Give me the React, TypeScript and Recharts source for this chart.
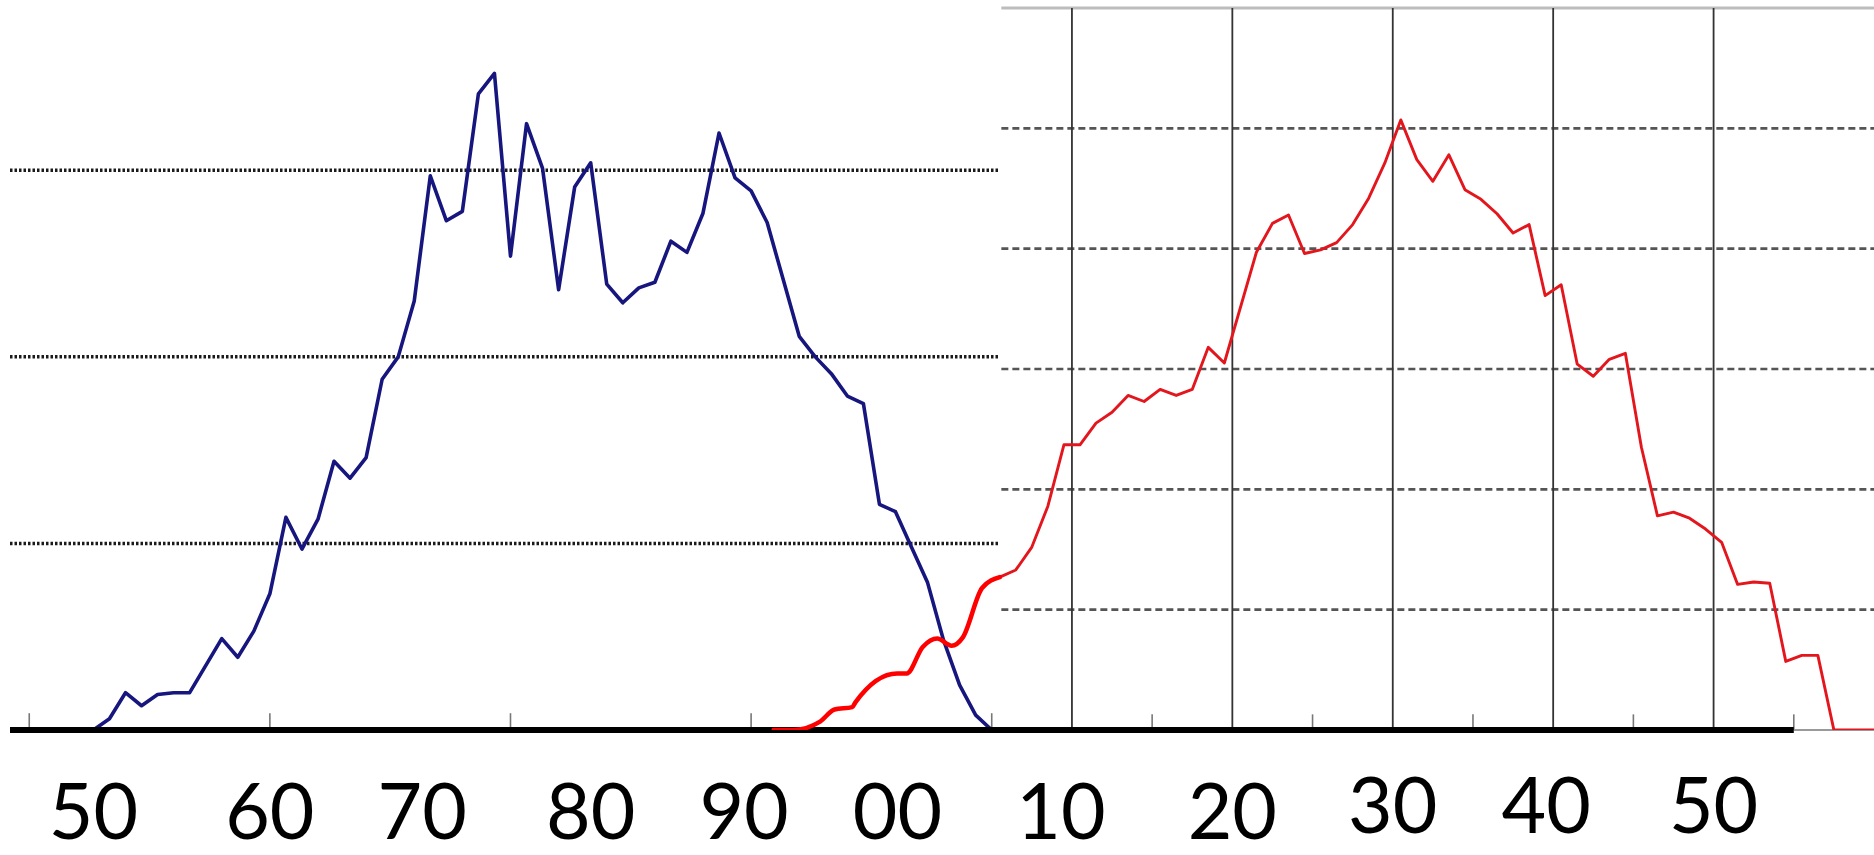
import React from "react";
import { ComposedChart, Line, XAxis, YAxis, ReferenceLine } from "recharts";

// ---- data (x = year, y = value) ----
const xTicks = [1950, 1960, 1970, 1980, 1990, 2000, 2010, 2020, 2030, 2040, 2050];

const blueYears = [
  1944, 1949, 1950, 1951, 1952, 1953, 1954, 1955, 1957, 1958, 1959, 1960, 1961, 1962, 1963,
  1964, 1965, 1966, 1967, 1968, 1969, 1970, 1971, 1972, 1973, 1974, 1975, 1976, 1977, 1978,
  1979, 1980, 1981, 1982, 1983, 1984, 1985, 1986, 1987, 1988, 1989, 1990, 1991, 1993, 1994,
  1995, 1996, 1997, 1998, 1999, 2000, 2001, 2002, 2003, 2004, 2005,
];
const blueValues = [
  0, 0, 6, 20, 13, 19, 20, 20, 49, 39, 53, 73, 114, 97, 113,
  144, 135, 146, 188, 200, 230, 297, 273, 278, 341, 352, 254, 325, 301, 236,
  291, 304, 239, 229, 237, 240, 262, 256, 277, 320, 296, 289, 272, 211, 200,
  191, 179, 175, 121, 117, 98, 79, 48, 24, 8, 0,
];

const redEarlyYears = [1991.4, 1992.6, 1994.3, 1995.2, 1996.3, 1996.5, 1999.1, 1999.7, 2000.7, 2001.6, 2002.5, 2003.2, 2004.4, 2005.5];
const redEarlyValues = [0, 0, 7, 17, 19, 23, 47, 47, 69, 76, 70, 77, 118, 127];

const redYears = [
  2005.5, 2006.5, 2007.5, 2008.5, 2009.5, 2010.5, 2011.5, 2012.5, 2013.5, 2014.5, 2015.5,
  2016.5, 2017.5, 2018.5, 2019.5, 2021.5, 2022.5, 2023.5, 2024.5, 2025.5, 2026.5, 2027.5,
  2028.5, 2029.5, 2030.5, 2031.5, 2032.5, 2033.5, 2034.5, 2035.5, 2036.5, 2037.5, 2038.5,
  2039.5, 2040.5, 2041.5, 2042.5, 2043.5, 2044.5, 2045.5, 2046.5, 2047.5, 2048.5, 2049.5,
  2050.5, 2051.5, 2052.5, 2053.5, 2054.5, 2055.5, 2056.5, 2057.5, 2060,
];
const redValues = [
  127, 133, 152, 186, 237, 237, 255, 264, 278, 273, 283,
  278, 283, 318, 305, 397, 421, 428, 396, 399, 405, 420,
  442, 471, 507, 474, 456, 478, 449, 441, 429, 413, 420,
  361, 370, 304, 294, 308, 313, 235, 178, 181, 176, 167,
  156, 121, 123, 122, 57, 62, 62, 0, 0,
];

const leftGridValues = [100, 200, 300];
const rightGridValues = [100, 200, 300, 400, 500];
const decadeLines = [2010, 2020, 2030, 2040, 2050];
const leftTickYears = [1945, 1960, 1975, 1990, 2005];
const rightTickYears = [2015, 2025, 2035, 2045, 2055];

const X_MIN = 1943.8;
const X_MAX = 2060;
const PANEL_SPLIT = 2005.4;
const BASELINE_END = 2055;

const zip = (xs: number[], ys: number[]) => xs.map((x, i) => ({ x, y: ys[i] }));
const blueData = zip(blueYears, blueValues);
const redEarlyData = zip(redEarlyYears, redEarlyValues);
const redData = zip(redYears, redValues);

// the pasted labels sit slightly off the year positions in the original picture
const labelNudge: Record<number, number> = { 1950: -16, 1970: -8, 1990: -7, 2000: -14, 2010: -11, 2040: -7 };

const YearTick = (props: any) => {
  const { x, y, payload } = props;
  const v = payload.value as number;
  const label = String(v % 100).padStart(2, "0");
  const dy = v >= 2030 ? 103 : 109;
  return (
    <text
      x={x + (labelNudge[v] || 0)}
      y={y + dy}
      textAnchor="middle"
      fill="#000"
      style={{ fontFamily: "Lato, 'Open Sans', sans-serif", fontSize: 77 }}
    >
      {label}
    </text>
  );
};

export default function App() {
  return (
    <div style={{ position: "absolute", left: 0, top: 0, width: 1874, height: 855, background: "#fff" }}>
      <ComposedChart width={1874} height={855} margin={{ top: 8, right: 0, bottom: 0, left: 10 }}>
        <XAxis
          type="number"
          dataKey="x"
          domain={[X_MIN, X_MAX]}
          allowDataOverflow
          ticks={xTicks}
          interval={0}
          height={125}
          axisLine={false}
          tickLine={false}
          tickSize={0}
          tickMargin={0}
          tick={<YearTick />}
        />
        <YAxis yAxisId="left" domain={[0, 387]} hide allowDataOverflow />
        <YAxis yAxisId="right" domain={[0, 600]} hide allowDataOverflow />

        {/* left panel dotted grid */}
        {leftGridValues.map((v) => (
          <ReferenceLine
            key={"lg" + v}
            yAxisId="left"
            segment={[{ x: X_MIN, y: v }, { x: PANEL_SPLIT, y: v }]}
            stroke="#1a1a1a"
            strokeWidth={3.5}
            strokeDasharray="2.5 2"
          />
        ))}
        {/* right panel dashed grid */}
        {rightGridValues.map((v) => (
          <ReferenceLine
            key={"rg" + v}
            yAxisId="right"
            segment={[{ x: 2005.6, y: v }, { x: X_MAX, y: v }]}
            stroke="#555"
            strokeWidth={2.6}
            strokeDasharray="7 4"
          />
        ))}
        {/* right panel top border */}
        <ReferenceLine
          yAxisId="right"
          segment={[{ x: 2005.6, y: 600 }, { x: X_MAX, y: 600 }]}
          stroke="#bdbdbd"
          strokeWidth={3}
        />
        {/* right panel decade verticals */}
        {decadeLines.map((yr) => (
          <ReferenceLine
            key={"dv" + yr}
            yAxisId="right"
            segment={[{ x: yr, y: 0 }, { x: yr, y: 600 }]}
            stroke="#333"
            strokeWidth={1.8}
          />
        ))}
        {/* small ticks */}
        {leftTickYears.map((yr) => (
          <ReferenceLine
            key={"lt" + yr}
            yAxisId="left"
            segment={[{ x: yr, y: 0 }, { x: yr, y: 9 }]}
            stroke="#777"
            strokeWidth={1.6}
          />
        ))}
        {rightTickYears.map((yr) => (
          <ReferenceLine
            key={"rt" + yr}
            yAxisId="right"
            segment={[{ x: yr, y: 0 }, { x: yr, y: 13 }]}
            stroke="#777"
            strokeWidth={1.6}
          />
        ))}
        {/* thin baseline at far right */}
        <ReferenceLine
          yAxisId="right"
          segment={[{ x: BASELINE_END, y: 0 }, { x: X_MAX, y: 0 }]}
          stroke="#999"
          strokeWidth={2}
        />

        <Line
          yAxisId="left"
          data={blueData}
          dataKey="y"
          type="linear"
          stroke="#16167e"
          strokeWidth={3.6}
          dot={false}
          activeDot={false}
          strokeLinejoin="round"
          isAnimationActive={false}
        />
        <Line
          yAxisId="right"
          data={redData}
          dataKey="y"
          type="linear"
          stroke="#e3161d"
          strokeWidth={2.9}
          dot={false}
          activeDot={false}
          strokeLinejoin="round"
          isAnimationActive={false}
        />
        {/* thick black baseline */}
        <ReferenceLine
          yAxisId="right"
          segment={[{ x: X_MIN, y: 0 }, { x: BASELINE_END, y: 0 }]}
          stroke="#000"
          strokeWidth={6}
        />
        <Line
          yAxisId="right"
          data={redEarlyData}
          dataKey="y"
          type="monotone"
          stroke="#ff0000"
          strokeWidth={4.5}
          dot={false}
          activeDot={false}
          strokeLinejoin="round"
          strokeLinecap="round"
          isAnimationActive={false}
        />
      </ComposedChart>
    </div>
  );
}
